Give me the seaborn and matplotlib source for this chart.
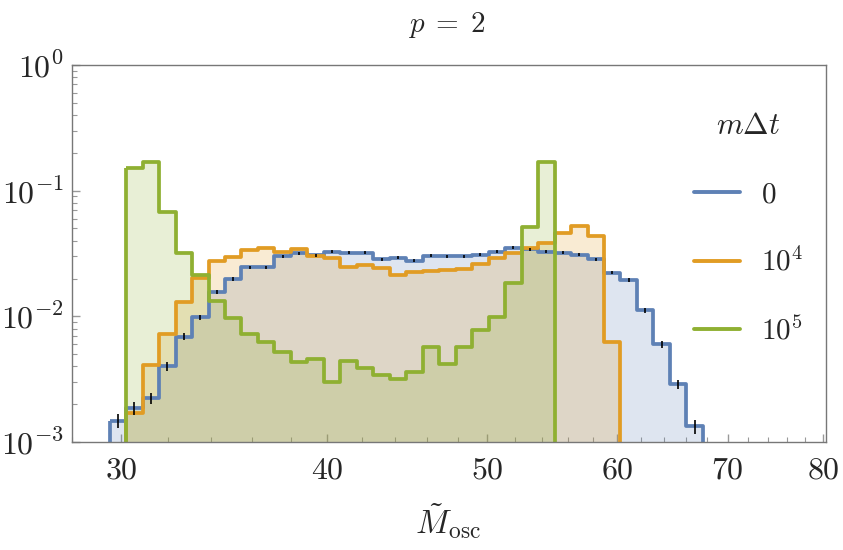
import numpy as np
import pandas as pd
import matplotlib
matplotlib.use("Agg")
import matplotlib.pyplot as plt
import matplotlib.ticker as mticker
from matplotlib.lines import Line2D
import seaborn as sns

# histogram bins are uniform in log10(M), width 0.01
bin_width = 0.01
blue_start, orange_start, green_start = 1.47, 1.48, 1.48

blue_vals = [0.00148, 0.00186, 0.00223, 0.0040, 0.0069, 0.0098, 0.0156, 0.0197,
             0.0246, 0.0246, 0.0302, 0.0318, 0.0306, 0.0327, 0.0320, 0.0320,
             0.0285, 0.0293, 0.0277, 0.0304, 0.0300, 0.0300, 0.0310, 0.0327,
             0.0352, 0.0342, 0.0327, 0.0320, 0.0308, 0.0285, 0.0223, 0.0195,
             0.0112, 0.0060, 0.00288, 0.00133]
orange_vals = [0.00169, 0.0041, 0.0073, 0.0129, 0.0201, 0.0275, 0.0299, 0.0338,
               0.0348, 0.0323, 0.0342, 0.0304, 0.0293, 0.0249, 0.0256, 0.0241,
               0.0213, 0.0227, 0.0230, 0.0234, 0.0237, 0.0261, 0.0293, 0.0321,
               0.0348, 0.0386, 0.0463, 0.0527, 0.0438, 0.0063]
green_vals = [0.152, 0.170, 0.068, 0.0318, 0.0212, 0.0133, 0.0097, 0.0073,
              0.0063, 0.0052, 0.0043, 0.0046, 0.0030, 0.0044, 0.0039, 0.0034,
              0.0032, 0.0036, 0.0057, 0.0042, 0.0057, 0.0078, 0.0098, 0.0185,
              0.051, 0.170]
n_events = 42000  # sample size used for the Poisson error bars on m*dt = 0

labels = ["$0$", "$10^4$", "$10^5$"]
colors = ["#5E81B5", "#E19C24", "#8FB032"]

x_major = [30, 40, 50, 60, 70, 80]
x_minor = [m for m in range(28, 80, 2) if m % 10 != 0]

sns.set_style("white")
plt.rcParams["mathtext.fontset"] = "cm"
plt.rcParams["font.family"] = ["DejaVu Serif"]

fig = plt.figure(figsize=(8.43, 5.5), dpi=100)
ax = fig.add_axes([72 / 843, 108 / 550, 754 / 843, 377 / 550])


def make_hist(start, vals):
    k = np.arange(len(vals) + 1)
    edges = 10 ** (start + bin_width * k)
    centers = 10 ** (start + bin_width * (k[:-1] + 0.5))
    return pd.DataFrame({"m": centers, "w": vals}), edges


series = [(blue_start, blue_vals), (orange_start, orange_vals), (green_start, green_vals)]

# translucent fills first, outlines on top of all fills
for (start, vals), c in zip(series, colors):
    df, edges = make_hist(start, vals)
    sns.histplot(data=df, x="m", weights="w", bins=list(edges), element="step",
                 fill=True, alpha=0.2, color=c, edgecolor="none", linewidth=0, ax=ax)
for (start, vals), c in zip(series, colors):
    df, edges = make_hist(start, vals)
    sns.histplot(data=df, x="m", weights="w", bins=list(edges), element="step",
                 fill=True, color=c, facecolor="none", edgecolor=c,
                 linewidth=2.7, ax=ax)

# error bars on the m*dt = 0 histogram
df_b, _ = make_hist(blue_start, blue_vals)
yerr = np.sqrt(df_b["w"] / n_events)
ax.errorbar(df_b["m"], df_b["w"], yerr=yerr, fmt="none", ecolor="black",
            elinewidth=1.2, capsize=0, zorder=10)

ax.set_xscale("log")
ax.set_yscale("log")
ax.set_xlim(28, 80.3)
ax.set_ylim(1e-3, 1)

ax.xaxis.set_major_locator(mticker.FixedLocator(x_major))
ax.xaxis.set_minor_locator(mticker.FixedLocator(x_minor))
ax.xaxis.set_major_formatter(mticker.FuncFormatter(lambda v, p: r"$%d$" % round(v)))
ax.xaxis.set_minor_formatter(mticker.NullFormatter())
ax.yaxis.set_major_locator(mticker.LogLocator(base=10, numticks=10))
ax.yaxis.set_minor_locator(mticker.LogLocator(base=10, subs=np.arange(2, 10), numticks=10))
ax.yaxis.set_major_formatter(mticker.FuncFormatter(
    lambda v, p: r"$10^{%d}$" % round(np.log10(v))))
ax.yaxis.set_minor_formatter(mticker.NullFormatter())

ax.tick_params(which="both", direction="in", color="#999999", labelsize=23,
               bottom=True, left=True, top=False, right=False)
ax.tick_params(which="major", length=6, width=1)
ax.tick_params(which="minor", length=3.5, width=0.8)
ax.tick_params(axis="x", pad=9)
ax.tick_params(axis="y", pad=6)
for s in ax.spines.values():
    s.set_color("#777777")
    s.set_linewidth(1.0)

ax.set_xlabel("")
ax.set_ylabel("")

fig.text(447 / 843, 1 - 25 / 550, r"$p\;=\;2$", fontsize=21, ha="center", va="center")
fig.text(448 / 843, 1 - 521 / 550, r"$\tilde{M}_{\rm osc}$", fontsize=24,
         ha="center", va="center")

handles = [Line2D([], [], color=c, lw=2.8) for c in colors]
ax.legend(handles, labels, title=r"$m\Delta t$", loc="upper left",
          bbox_to_anchor=(694 / 843, 1 - 110 / 550), bbox_transform=fig.transFigure,
          frameon=False, fontsize=21, title_fontsize=22, borderpad=0,
          borderaxespad=0, handlelength=1.58, handletextpad=0.72, labelspacing=1.35)

fig.savefig("out.png", dpi=100)
